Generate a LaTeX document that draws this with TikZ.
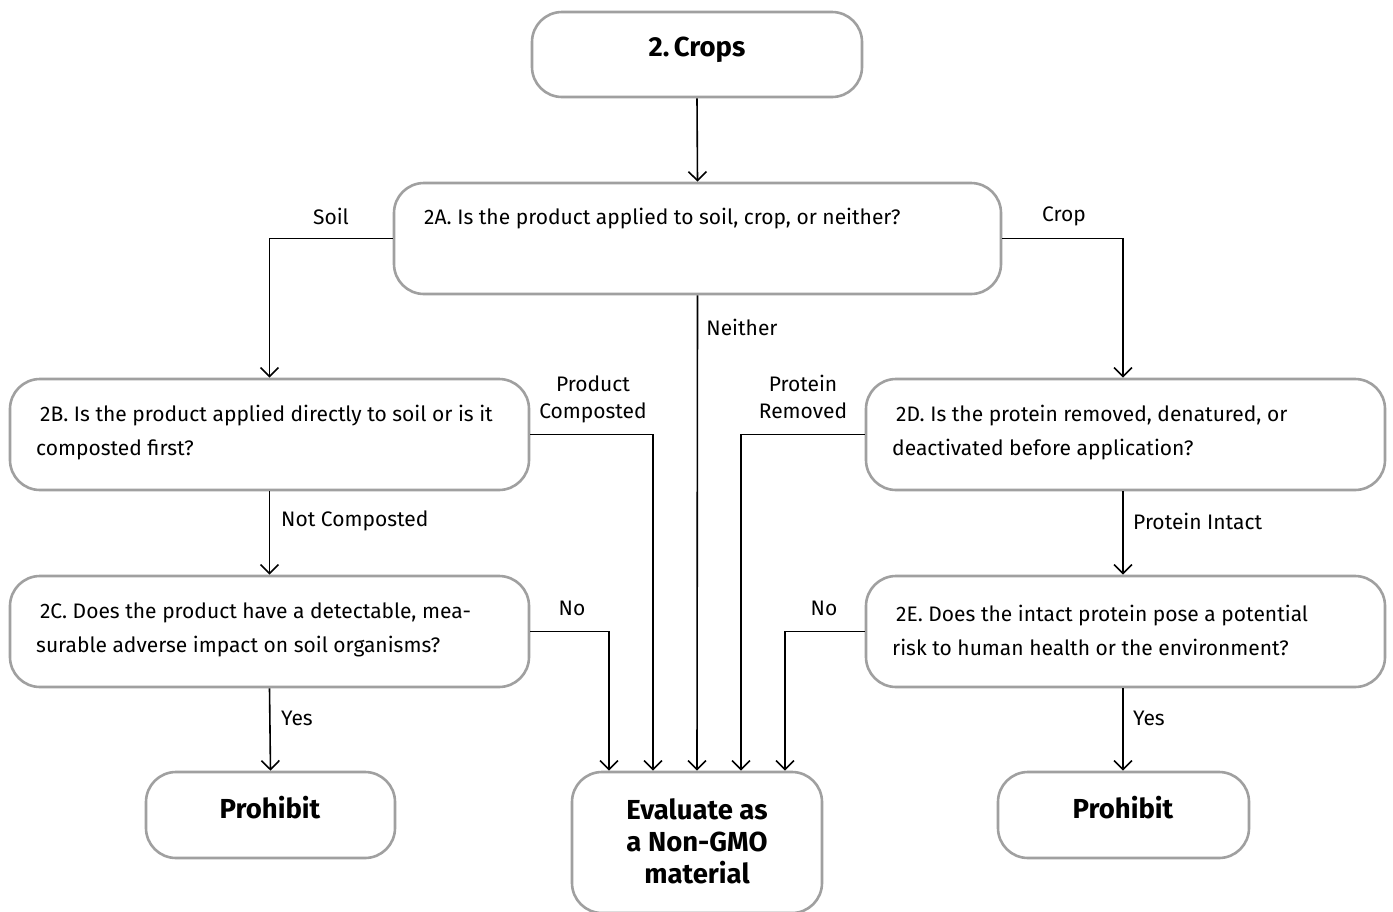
\documentclass[tikz,border=0pt]{standalone}
\usepackage{fontspec}
\setmainfont{Fira Sans}
\usetikzlibrary{arrows.meta}
\definecolor{boxgray}{RGB}{160,160,160}
\begin{document}
\begin{tikzpicture}[x=1pt,y=-1pt,
  box/.style={draw=boxgray, line width=2.6pt, rounded corners=30pt, fill=white, inner sep=0pt},
  conn/.style={line width=1.6pt, -{Straight Barb[length=9pt,width=18pt,line width=1.6pt]}},
  lbl/.style={font=\fontsize{21}{25}\selectfont, inner sep=0pt},
  qtext/.style={font=\fontsize{21}{34}\selectfont, inner sep=0pt, anchor=west, align=left},
  btext/.style={font=\fontsize{27.5}{32}\selectfont\bfseries, inner sep=0pt, align=center}
]
\useasboundingbox (0,0) rectangle (1393,911);
% boxes
\node[box, minimum width=330pt, minimum height=85pt] (crops) at (697,54.5) {};
\node[box, minimum width=607pt, minimum height=111pt] (a2) at (697.5,238.5) {};
\node[box, minimum width=519pt, minimum height=111pt] (b2) at (269.5,434.5) {};
\node[box, minimum width=519pt, minimum height=111pt] (c2) at (269.5,631.5) {};
\node[box, minimum width=519pt, minimum height=111pt] (d2) at (1125.5,434.5) {};
\node[box, minimum width=519pt, minimum height=111pt] (e2) at (1125.5,631.5) {};
\node[box, minimum width=249pt, minimum height=86pt] (p1) at (270.5,815) {};
\node[box, minimum width=250pt, minimum height=141pt] (ev) at (697,842.5) {};
\node[box, minimum width=251pt, minimum height=86pt] (p2) at (1123.5,815) {};
% box texts
\node[btext] (tcrops) at (697,50) {2.\,Crops};
\node[qtext] (ta2) at (424,219) {2A. Is the product applied to soil, crop, or neither?};
\node[qtext] (tb2) at (36,433) {\hspace*{4pt}2B. Is the product applied directly to soil or is it\\composted first?};
\node[qtext] (tc2) at (36,630) {\hspace*{4pt}2C. Does the product have a detectable, mea-\\surable adverse impact on soil organisms?};
\node[qtext] (td2) at (892,433) {\hspace*{4pt}2D. Is the protein removed, denatured, or\\deactivated before application?};
\node[qtext] (te2) at (892,630) {\hspace*{4pt}2E. Does the intact protein pose a potential\\risk to human health or the environment?};
\node[btext] (tp1) at (270,808) {Prohibit};
\node[btext] (tev) at (697,841) {Evaluate as\\a Non-GMO\\material};
\node[btext] (tp2) at (1123,808) {Prohibit};
% connectors
\draw[conn] (crops.south) -- (a2.north);
\draw[conn] (a2.west) -| (b2.north);
\draw[conn] (a2.east) -| ([xshift=-2.5pt]d2.north);
\draw[conn] (a2.south) -- (ev.north);
\draw[conn] (b2.south) -- (c2.north);
\draw[conn] (d2.south) ++(-2.5,0) coordinate (dsouth) -- (dsouth |- e2.north);
\draw[conn] (c2.south) -- (p1.north);
\draw[conn] (e2.south) ++(-2.5,0) coordinate (esouth) -- (esouth |- p2.north);
\draw[conn] (b2.east) -| ([xshift=-44pt]ev.north);
\draw[conn] (c2.east) -| ([xshift=-88pt]ev.north);
\draw[conn] (d2.west) -| ([xshift=44pt]ev.north);
\draw[conn] (e2.west) -| ([xshift=88pt]ev.north);
% labels
\node[lbl] (lsoil) at (331,216) {Soil};
\node[lbl] (lcrop) at (1064,216) {Crop};
\node[lbl] (lneither) at (742,327) {Neither};
\node[lbl, align=center, font=\fontsize{21}{27}\selectfont] (lpc) at (593,399) {Product\\Composted};
\node[lbl, align=center, font=\fontsize{21}{27}\selectfont] (lpr) at (803,397) {Protein\\Removed};
\node[lbl, anchor=west] (lnc) at (281,521) {Not Composted};
\node[lbl, anchor=west] (lpi) at (1133,521) {Protein Intact};
\node[lbl] (lno1) at (572,608) {No};
\node[lbl] (lno2) at (824,608) {No};
\node[lbl, anchor=west] (lyes1) at (281,718) {Yes};
\node[lbl, anchor=west] (lyes2) at (1133,718) {Yes};
\end{tikzpicture}
\end{document}
